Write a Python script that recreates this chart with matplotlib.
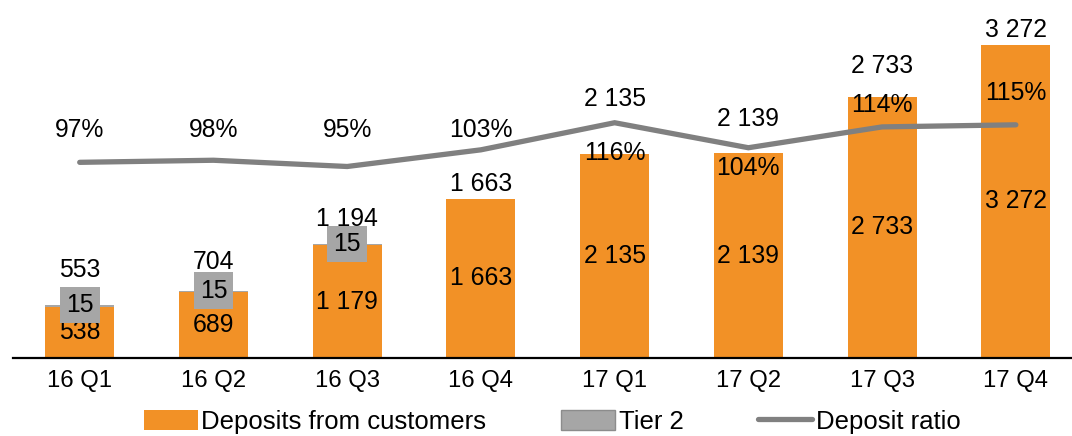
import matplotlib
matplotlib.use("Agg")
import matplotlib.pyplot as plt
from matplotlib.lines import Line2D
from matplotlib.patches import Patch

quarters = ["16 Q1", "16 Q2", "16 Q3", "16 Q4", "17 Q1", "17 Q2", "17 Q3", "17 Q4"]
deposits = [538, 689, 1179, 1663, 2135, 2139, 2733, 3272]
tier2 = [15, 15, 15, 0, 0, 0, 0, 0]
deposit_ratio = [97, 98, 95, 103, 116, 104, 114, 115]

# label offsets in pixels (styling)
total_offsets = [35, 29, 25, 15, 55, 34, 31, 15]
pct_offsets = [32, 30, 36, 20, -30, -20, 22, 32]

ORANGE = "#F29126"
GREY = "#A6A6A6"
LINE = "#808080"
FS = 17.8
TFS = 17.2
LFS = 18.5

plt.rcParams['font.family'] = ['Liberation Sans', 'DejaVu Sans']

fig = plt.figure(figsize=(10.72, 4.36), dpi=100)
ax = fig.add_axes([12.85 / 1072, 1 - 358 / 436, 1 - 12.85 / 1072, 358 / 436])
x = list(range(len(quarters)))

ax.bar(x, deposits, width=0.515, color=ORANGE, zorder=2)
ax.bar(x, tier2, bottom=deposits, width=0.515, color=GREY, zorder=2)
ax.set_xlim(-0.5, 7.42)
ax.set_ylim(0, 3742)
for s in ["top", "right", "left"]:
    ax.spines[s].set_visible(False)
ax.spines["bottom"].set_linewidth(1.6)
ax.set_yticks([])
ax.set_xticks(x)
ax.set_xticklabels(quarters, fontsize=TFS)
ax.tick_params(axis="x", length=0, pad=9)

def fmt(v):
    return f"{v:,}".replace(",", " ")

for i in x:
    total = deposits[i] + tier2[i]
    ax.text(i, deposits[i] / 2, fmt(deposits[i]), ha="center", va="center",
            fontsize=FS, zorder=3)
    ax.annotate(fmt(total), (i, total), xytext=(0, total_offsets[i]),
                textcoords="offset pixels", ha="center", va="center", fontsize=FS)
    if tier2[i]:
        ax.text(i, total, fmt(tier2[i]), ha="center", va="center", fontsize=FS,
                zorder=4,
                bbox=dict(boxstyle="square,pad=0.25", facecolor=GREY, edgecolor="none"))

ax2 = ax.twinx()
ax2.set_ylim(3.1, 174.9)
ax2.plot(x, deposit_ratio, color=LINE, lw=3.8, solid_capstyle="round",
         solid_joinstyle="miter", zorder=5)
ax2.set_yticks([])
for s in ["top", "right", "left", "bottom"]:
    ax2.spines[s].set_visible(False)
for i in x:
    ax2.annotate(f"{deposit_ratio[i]}%", (i, deposit_ratio[i]), xytext=(0, pct_offsets[i]),
                 textcoords="offset pixels", ha="center", va="center", fontsize=FS)

handles = [Patch(facecolor=ORANGE, edgecolor="none", label="Deposits from customers"),
           Patch(facecolor=GREY, edgecolor="#8c8c8c", label="Tier 2"),
           Line2D([0], [0], color=LINE, lw=3.8, solid_capstyle="round", label="Deposit ratio")]
fig.legend(handles=handles, loc="center", bbox_to_anchor=(0.515, 0.033), ncol=3,
           frameon=False, fontsize=LFS, handlelength=2.1, handleheight=0.85,
           handletextpad=0.15, columnspacing=2.9, borderpad=0, borderaxespad=0)

fig.savefig("out.png", dpi=100)
